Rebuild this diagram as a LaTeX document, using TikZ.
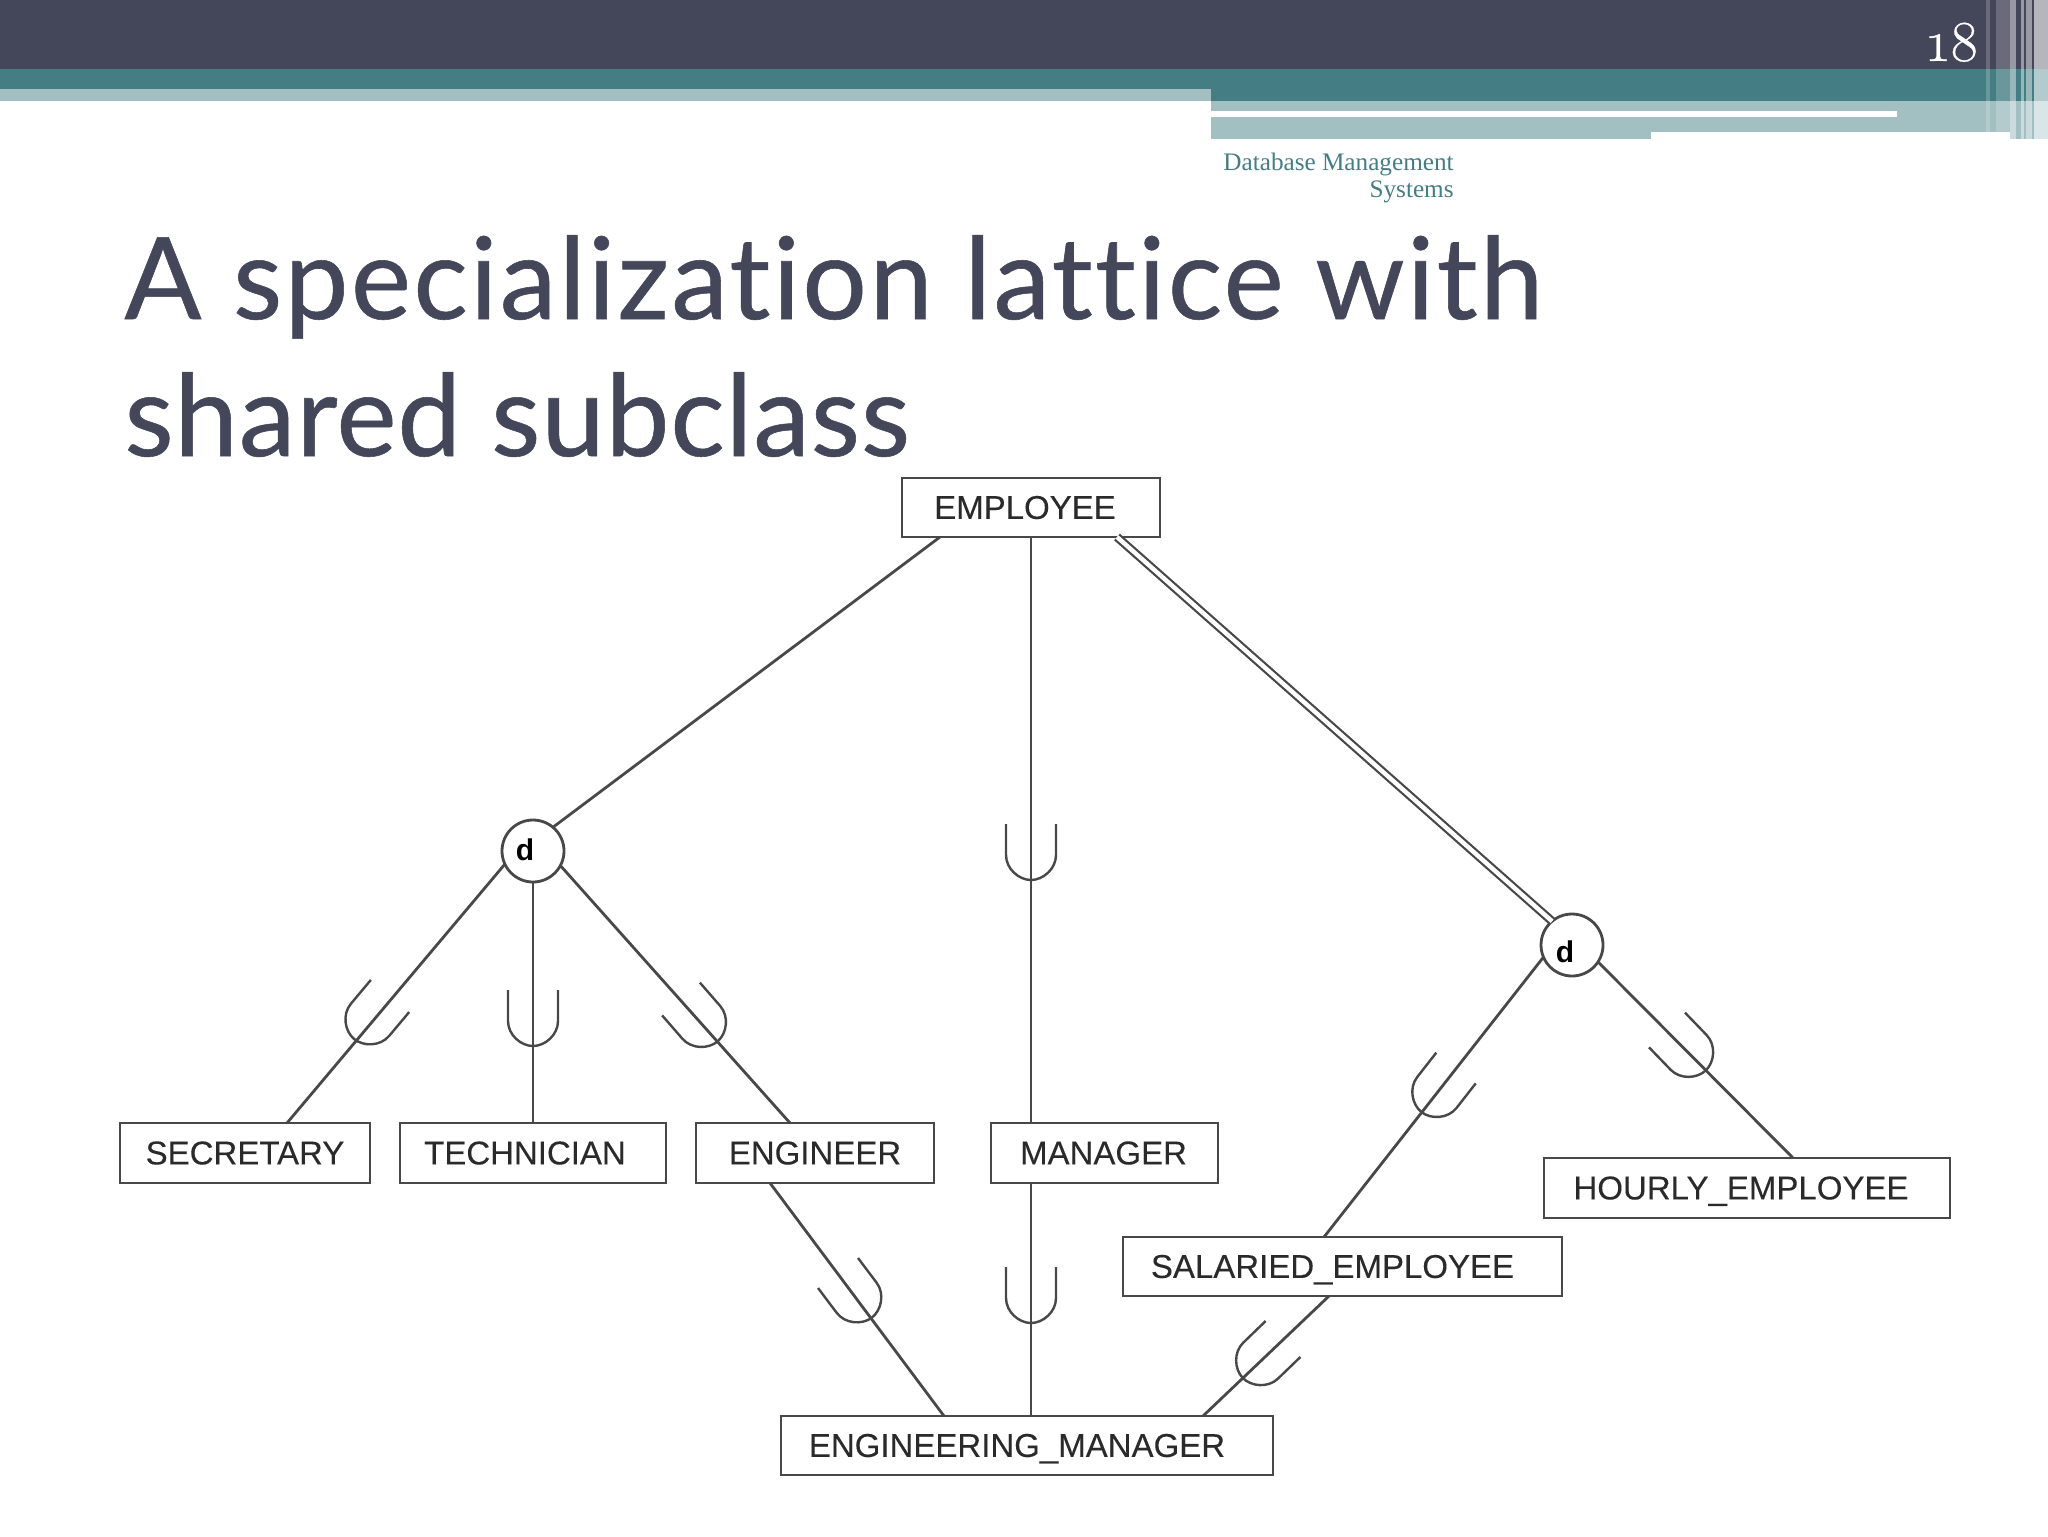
\documentclass[tikz,border=0pt]{standalone}
\usepackage{fontspec}
\setmainfont{Liberation Sans}[FakeBold=0.15]
\newfontfamily\boldlabel{Liberation Sans Bold}
\newfontfamily\titlefont{Lato}[Ligatures=NoCommon,FakeBold=0.5,LetterSpace=0.7]
\newfontfamily\titlefontwide{Lato}[Ligatures=NoCommon,FakeBold=0.5,LetterSpace=2.0]
\newfontfamily\headfont{Liberation Serif}
\newfontfamily\numfont[Numbers=OldStyle,FakeBold=0.5]{Latin Modern Roman}
\definecolor{darkband}{HTML}{44465A}
\definecolor{tealband}{HTML}{447D83}
\definecolor{lightband}{HTML}{A2BFC2}
\definecolor{ink}{HTML}{484848}
\definecolor{labelink}{HTML}{2A2A2A}
\tikzset{
  edge/.style={draw=ink,line width=1.4pt},
  dbl/.style={draw=ink,line width=1.1pt,double=white,double distance=2.2pt},
  box/.style={draw=ink,line width=1.35pt,fill=white,rectangle,inner sep=0pt,outer sep=0pt,
    text=labelink,font=\fontsize{16.5}{18}\selectfont,text height=11.4pt,text depth=0pt},
  circ/.style={draw=ink,line width=1.4pt,fill=white,circle,minimum size=31pt,inner sep=0pt,outer sep=0pt,
    font=\boldlabel\fontsize{15}{16}\selectfont,text height=11pt,text depth=0pt},
  usym/.pic={\draw[edge,line width=1.2pt] (-25,0) -- (-25,31) .. controls (-25,45) and (-12,56) .. (0,56)
     .. controls (12,56) and (25,45) .. (25,31) -- (25,0);},
  stripe/.style={fill=white,draw=none}
}
\begin{document}
\begin{tikzpicture}[x=0.5pt,y=-0.5pt]
\useasboundingbox (0,0) rectangle (2048,1536);
% banner
\fill[darkband] (0,0) rectangle (2048,69);
\fill[tealband] (0,69) rectangle (2048,101);
\fill[lightband] (0,89) rectangle (1211,101);
\fill[lightband] (1211,101) rectangle (2048,139);
\fill[white] (1211,111) rectangle (1897,117);
\fill[white] (1651,132) rectangle (2010,139);
\fill[stripe,opacity=.2] (1986,0) rectangle (1990,132);
\fill[stripe,opacity=.2] (1996,0) rectangle (2010,132);
\fill[stripe,opacity=.45] (2010,0) rectangle (2016,139);
\fill[stripe,opacity=.45] (2021,0) rectangle (2024,139);
\fill[stripe,opacity=.45] (2026,0) rectangle (2032,139);
\fill[stripe,opacity=.6] (2034,0) rectangle (2048,139);
% header texts
\node[anchor=base east,inner sep=0pt,text=white,font=\numfont\fontsize{29}{30}\selectfont] (num) at (1980,61) {18};
\node[anchor=base east,inner sep=0pt,text=tealband,font=\headfont\fontsize{12.6}{14}\selectfont] (h1) at (1454,170) {Database Management};
\node[anchor=base east,inner sep=0pt,text=tealband,font=\headfont\fontsize{12.6}{14}\selectfont] (h2) at (1454,197) {Systems};
% title
\node[anchor=base west,inner sep=0pt,text=darkband,font=\titlefontwide\fontsize{57}{60}\selectfont] (t1) at (124,319) {A specialization lattice with};
\node[anchor=base west,inner sep=0pt,text=darkband,font=\titlefont\fontsize{57}{60}\selectfont] (t2) at (124,456) {shared subclass};
% entity boxes
\node[box,minimum width=129pt,minimum height=29.5pt] (emp) at (1031,507.5) {EMPLOYEE\kern6pt};
\node[box,minimum width=125pt,minimum height=30pt] (sec) at (245,1153) {SECRETARY};
\node[box,minimum width=133pt,minimum height=30pt] (tech) at (533,1153) {TECHNICIAN\kern8pt};
\node[box,minimum width=119pt,minimum height=30pt] (engr) at (815,1153) {ENGINEER};
\node[box,minimum width=113.5pt,minimum height=30pt] (mgr) at (1104.5,1153) {MANAGER\kern1pt};
\node[box,minimum width=203pt,minimum height=30pt] (hourly) at (1747,1188) {HOURLY\_EMPLOYEE\kern6pt};
\node[box,minimum width=219.5pt,minimum height=29.5pt] (sal) at (1342.5,1266.5) {SALARIED\_EMPLOYEE\kern10pt};
\node[box,minimum width=246pt,minimum height=29.5pt] (em) at (1027,1445.5) {ENGINEERING\_MANAGER\kern10pt};
% circles
\node[circ] (dl) at (533,851) {\raisebox{1pt}[0pt][0pt]{d}\kern8pt};
\node[circ] (dr) at (1572,945) {\raisebox{-3pt}[0pt][0pt]{d}\kern7pt};
% connectors
\draw[edge] ([xshift=19pt]emp.south west) -- (dl.50);
\draw[edge] ([xshift=64.5pt]emp.south west) -- ([xshift=20pt]mgr.north west);
\draw[dbl] ([xshift=107.5pt]emp.south west) -- (dr.130);
\draw[edge] (dl.205) -- ([xshift=83.5pt]sec.north west);
\draw[edge] (dl.south) -- ([xshift=66.5pt]tech.north west);
\draw[edge] (dl.-28) -- ([xshift=47pt]engr.north west);
\draw[edge] (dr.203) -- ([xshift=100.5pt]sal.north west);
\draw[edge] (dr.-33) -- ([xshift=124.5pt]hourly.north west);
\draw[edge] ([xshift=37pt]engr.south west) -- ([xshift=81.5pt]em.north west);
\draw[edge] ([xshift=20pt]mgr.south west) -- ([xshift=125pt]em.north west);
\draw[edge] ([xshift=103pt]sal.south west) -- ([xshift=211pt]em.north west);
% subclass symbols
\pic[shift={(390,996)},rotate=-40] {usym};
\pic[shift={(533,990)}] {usym};
\pic[shift={(681,999)},rotate=41] {usym};
\pic[shift={(1031,824)}] {usym};
\pic[shift={(1031,1267)}] {usym};
\pic[shift={(838,1273)},rotate=37] {usym};
\pic[shift={(1283,1339)},rotate=-46] {usym};
\pic[shift={(1456,1068)},rotate=-38] {usym};
\pic[shift={(1667,1030)},rotate=44] {usym};
\end{tikzpicture}
\end{document}
